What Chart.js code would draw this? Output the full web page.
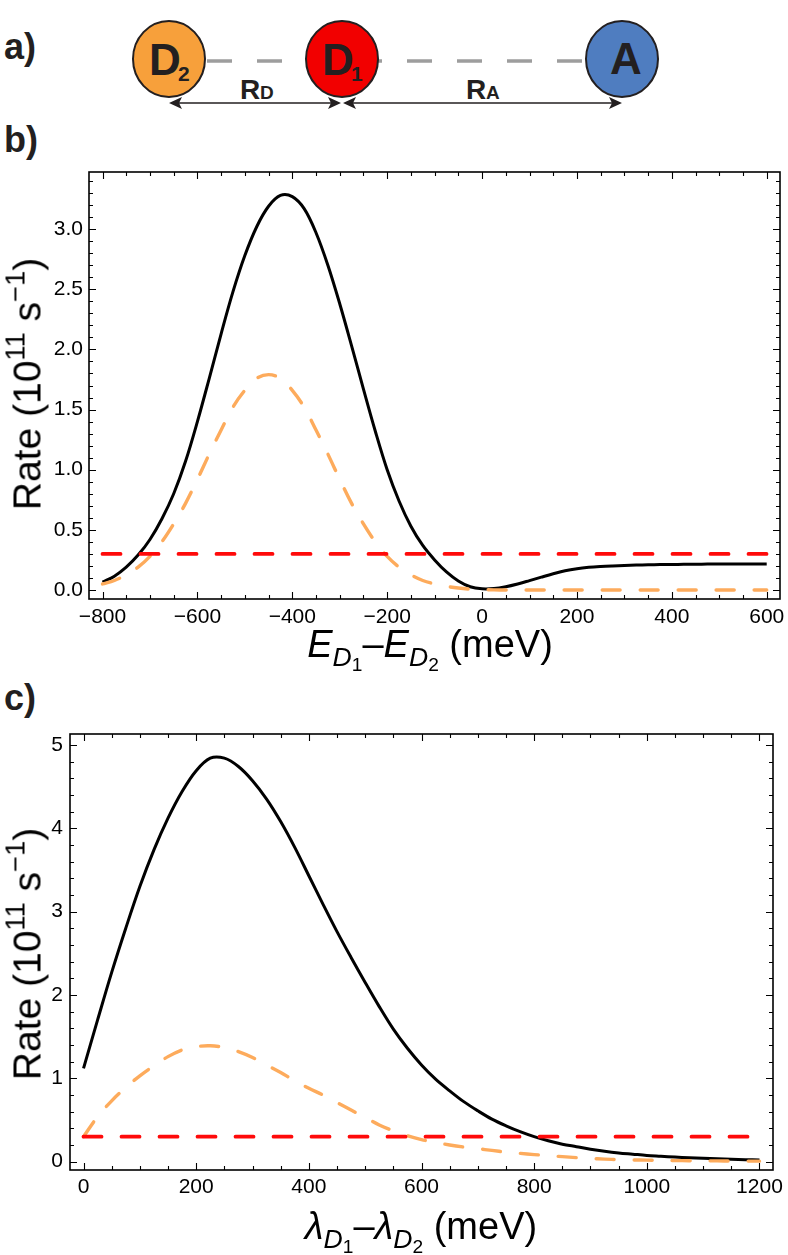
<!DOCTYPE html>
<html><head><meta charset="utf-8">
<script src="https://cdn.jsdelivr.net/npm/chart.js@4.4.1/dist/chart.umd.min.js"></script>
<style>
html,body{margin:0;padding:0;background:#fff;}
body{width:788px;height:1255px;position:relative;overflow:hidden;font-family:"Liberation Sans",Arial,sans-serif;color:#000;}
.panel{position:absolute;left:4px;font-weight:bold;font-size:36px;line-height:1;color:#231f20;}
canvas{position:absolute;left:0;}
.ytitle{position:absolute;font-size:39px;white-space:nowrap;line-height:1;transform:translate(-50%,-50%) rotate(-90deg);}
.xtitle{position:absolute;font-size:38px;white-space:nowrap;line-height:1;transform:translateX(-50%);}
.sup{position:relative;top:-0.6em;font-size:0.7em;}
.it{font-style:italic;}
.sub{position:relative;top:0.33em;font-size:0.7em;font-style:italic;}
.sub2{position:relative;top:0.28em;font-size:0.72em;font-style:normal;}
</style></head>
<body>
<svg width="788" height="135" style="position:absolute;left:0;top:0" font-family="Liberation Sans, Arial, sans-serif" font-weight="bold">
  <text x="4" y="59" font-size="36" fill="#231f20">a)</text>
  <line x1="207" y1="61" x2="587" y2="61" stroke="#9d9d9d" stroke-width="3.5" stroke-dasharray="25 25"/>
  <ellipse cx="169" cy="59" rx="36" ry="38" fill="#F7A03B" stroke="#231f20" stroke-width="2"/>
  <ellipse cx="342" cy="59" rx="36" ry="38" fill="#F20000" stroke="#231f20" stroke-width="2"/>
  <ellipse cx="622" cy="59" rx="36" ry="38" fill="#4F7DC0" stroke="#231f20" stroke-width="2"/>
  <text x="149" y="75" font-size="44" fill="#231f20">D</text>
  <text x="178" y="81" font-size="21" fill="#231f20">2</text>
  <text x="322" y="75" font-size="44" fill="#231f20">D</text>
  <text x="351" y="81" font-size="21" fill="#231f20">1</text>
  <text x="610" y="74" font-size="44" fill="#231f20">A</text>
  <text x="240" y="99" font-size="28" fill="#231f20">R</text>
  <text x="260" y="99" font-size="19" fill="#231f20">D</text>
  <text x="466" y="99" font-size="28" fill="#231f20">R</text>
  <text x="486" y="99" font-size="19" fill="#231f20">A</text>
  <g stroke="#231f20" stroke-width="1.6" fill="#231f20">
    <line x1="175" y1="103" x2="335" y2="103"/>
    <line x1="349" y1="103" x2="616" y2="103"/>
  </g>
  <g fill="#231f20">
    <path d="M169,103 L182,97 L179,103 L182,109 Z"/>
    <path d="M341,103 L328,97 L331,103 L328,109 Z"/>
    <path d="M343,103 L356,97 L353,103 L356,109 Z"/>
    <path d="M622,103 L609,97 L612,103 L609,109 Z"/>
  </g>
</svg>
<div class="panel" style="top:122px">b)</div>
<div class="panel" style="top:680px">c)</div>
<canvas id="cb" width="788" height="540" style="top:140px"></canvas>
<canvas id="cc" width="788" height="555" style="top:700px"></canvas>
<div class="ytitle" style="left:27px;top:384px">Rate (10<span class="sup">11</span> s<span class="sup">−1</span>)</div>
<div class="ytitle" style="left:27px;top:954px">Rate (10<span class="sup">11</span> s<span class="sup">−1</span>)</div>
<div class="xtitle" style="left:430px;top:625px"><span class="it">E</span><span class="sub">D<span class="sub2">1</span></span>–<span class="it">E</span><span class="sub">D<span class="sub2">2</span></span> (meV)</div>
<div class="xtitle" style="left:421px;top:1207px"><span class="it">λ</span><span class="sub">D<span class="sub2">1</span></span>–<span class="it">λ</span><span class="sub">D<span class="sub2">2</span></span> (meV)</div>
<script>
// ---------- panel b data ----------
const bX = [-800,-775,-750,-725,-700,-675,-650,-625,-600,-575,-550,-525,-500,-475,-450,-425,-400,-375,-350,-325,-300,-275,-250,-225,-200,-175,-150,-125,-100,-75,-50,-25,0,25,50,75,100,125,150,175,200,225,250,275,300,325,350,375,400,425,450,475,500,525,550,575,600];
const bBlack = [0.065,0.115,0.19,0.29,0.42,0.59,0.80,1.07,1.40,1.76,2.13,2.48,2.78,3.02,3.19,3.28,3.27,3.17,2.97,2.70,2.38,2.03,1.67,1.32,1.00,0.74,0.53,0.37,0.25,0.15,0.075,0.027,0.01,0.012,0.027,0.05,0.078,0.107,0.135,0.16,0.177,0.188,0.195,0.2,0.204,0.207,0.209,0.211,0.212,0.213,0.214,0.215,0.215,0.216,0.216,0.216,0.217];
const bOrange = [0.05,0.079,0.125,0.19,0.28,0.40,0.55,0.72,0.92,1.13,1.33,1.52,1.66,1.76,1.79,1.76,1.66,1.52,1.33,1.13,0.92,0.72,0.55,0.40,0.28,0.19,0.125,0.079,0.05,0.03,0.016,0.007,0.003,0.001,0,0,0,0,0,0,0,0,0,0,0,0,0,0,0,0,0,0,0,0,0,0,0];
const bRedX = [-800, 600];
const bRedY = [0.3, 0.3];
const bXTicks = [-800,-600,-400,-200,0,200,400,600];
const bYTicks = [0,0.5,1,1.5,2,2.5,3];

// ---------- panel c data ----------
const cX = [0,25,50,75,100,125,150,175,200,225,250,275,300,325,350,375,400,425,450,475,500,525,550,575,600,625,650,675,700,725,750,775,800,825,850,875,900,925,950,975,1000,1025,1050,1075,1100,1125,1150,1175,1200];
const cBlack = [1.12,1.70,2.27,2.80,3.30,3.74,4.12,4.44,4.69,4.84,4.84,4.74,4.57,4.35,4.08,3.77,3.43,3.09,2.76,2.45,2.15,1.86,1.59,1.36,1.16,0.99,0.85,0.72,0.61,0.51,0.43,0.36,0.30,0.25,0.21,0.18,0.15,0.125,0.105,0.09,0.075,0.065,0.055,0.047,0.04,0.034,0.028,0.024,0.02];
const cOrange = [0.30,0.54,0.73,0.89,1.03,1.15,1.26,1.34,1.38,1.39,1.37,1.32,1.25,1.16,1.07,0.97,0.88,0.80,0.71,0.62,0.53,0.44,0.37,0.31,0.265,0.23,0.20,0.175,0.155,0.135,0.115,0.10,0.085,0.072,0.06,0.048,0.038,0.031,0.025,0.021,0.018,0.015,0.013,0.011,0.01,0.009,0.008,0.007,0.006];
const cRedX = [0, 1200];
const cRedY = [0.3, 0.3];
const cXTicks = [0,200,400,600,800,1000,1200];
const cYTicks = [0,1,2,3,4,5];

const BLACK = '#000000', ORANGE = '#FDAB5C', RED = '#FF0A0A';
const pts = (xs, ys) => xs.map((x, i) => ({x, y: ys[i]}));
const minus = v => (v < 0 ? '\u2212' + Math.abs(v) : String(v));

const frameTicks = {
  id: 'frameTicks',
  afterDatasetsDraw(chart, args, o) {
    const {ctx, chartArea: a} = chart;
    const xs = chart.scales.x, ys = chart.scales.y;
    ctx.save();
    ctx.strokeStyle = '#000';
    ctx.lineWidth = 1.1;
    ctx.beginPath();
    const isMaj = (arr, v) => arr.some(m => Math.abs(m - v) < 1e-6);
    let n = Math.round((o.xTo - o.xFrom) / o.xMinor);
    for (let i = 0; i <= n; i++) {
      const v = o.xFrom + i * o.xMinor;
      const len = isMaj(o.xMajor, v) ? 7 : 4;
      const p = Math.round(xs.getPixelForValue(v)) + 0.5;
      ctx.moveTo(p, a.bottom); ctx.lineTo(p, a.bottom - len);
      ctx.moveTo(p, a.top); ctx.lineTo(p, a.top + len);
    }
    n = Math.round((o.yTo - o.yFrom) / o.yMinor);
    for (let i = 0; i <= n; i++) {
      const v = o.yFrom + i * o.yMinor;
      const len = isMaj(o.yMajor, v) ? 7 : 4;
      const p = Math.round(ys.getPixelForValue(v)) + 0.5;
      ctx.moveTo(a.left, p); ctx.lineTo(a.left + len, p);
      ctx.moveTo(a.right, p); ctx.lineTo(a.right - len, p);
    }
    ctx.stroke();
    ctx.lineWidth = 1.6;
    ctx.strokeRect(a.left, a.top, a.right - a.left, a.bottom - a.top);
    ctx.restore();
  }
};

function makeChart(id, d) {
  const tickFont = {family: 'Liberation Sans, Arial, sans-serif', size: 21};
  return new Chart(document.getElementById(id), {
    type: 'line',
    data: {
      datasets: [
        {data: pts(d.redX, d.redY), borderColor: RED, borderWidth: 3.8, borderDash: [18, 20], borderCapStyle: 'round', pointRadius: 0, tension: 0},
        {data: pts(d.x, d.orange), borderColor: ORANGE, borderWidth: 3.4, borderDash: [18, 20], borderCapStyle: 'round', pointRadius: 0, tension: 0.35},
        {data: pts(d.x, d.black), borderColor: BLACK, borderWidth: 3, pointRadius: 0, tension: 0.35}
      ]
    },
    options: {
      responsive: false, animation: false, devicePixelRatio: 1,
      layout: {padding: d.pad},
      plugins: {legend: {display: false}, tooltip: {enabled: false}, frameTicks: d.frame},
      scales: {
        x: {
          type: 'linear', min: d.xMin, max: d.xMax,
          grid: {display: false, drawTicks: false}, border: {display: false},
          afterBuildTicks: s => { s.ticks = d.xTicks.map(v => ({value: v})); },
          afterFit: s => { s.height = d.xAxisH; s.paddingLeft = 0; s.paddingRight = 0; },
          ticks: {font: tickFont, color: '#000', padding: d.xPad, maxRotation: 0, autoSkip: false, callback: v => minus(v)}
        },
        y: {
          type: 'linear', min: d.yMin, max: d.yMax,
          grid: {display: false, drawTicks: false}, border: {display: false},
          afterBuildTicks: s => { s.ticks = d.yTicks.map(v => ({value: v})); },
          afterFit: s => { s.width = d.yAxisW; s.paddingTop = 0; s.paddingBottom = 0; },
          ticks: {font: tickFont, color: '#000', padding: d.yPad, autoSkip: false, callback: d.yFmt}
        }
      }
    },
    plugins: [frameTicks]
  });
}

makeChart('cb', {
  x: bX, black: bBlack, orange: bOrange, redX: bRedX, redY: bRedY,
  xTicks: bXTicks, yTicks: bYTicks,
  xMin: -828.5, xMax: 628, yMin: -0.075, yMax: 3.475,
  pad: {left: 0, right: 8, top: 32, bottom: 0}, xAxisH: 81, yAxisW: 89, xPad: 6, yPad: 6,
  yFmt: v => Number(v).toFixed(1),
  frame: {xFrom: -800, xTo: 600, xMinor: 50, xMajor: bXTicks, yFrom: 0, yTo: 3.4, yMinor: 0.1, yMajor: bYTicks}
});

makeChart('cc', {
  x: cX, black: cBlack, orange: cOrange, redX: cRedX, redY: cRedY,
  xTicks: cXTicks, yTicks: cYTicks,
  xMin: -24, xMax: 1224, yMin: -0.1, yMax: 5.13,
  pad: {left: 0, right: 15, top: 34, bottom: 0}, xAxisH: 85, yAxisW: 70, xPad: 5, yPad: 7,
  yFmt: v => String(v),
  frame: {xFrom: 0, xTo: 1200, xMinor: 50, xMajor: cXTicks, yFrom: 0, yTo: 5, yMinor: 0.2, yMajor: cYTicks}
});
</script>
</body></html>
